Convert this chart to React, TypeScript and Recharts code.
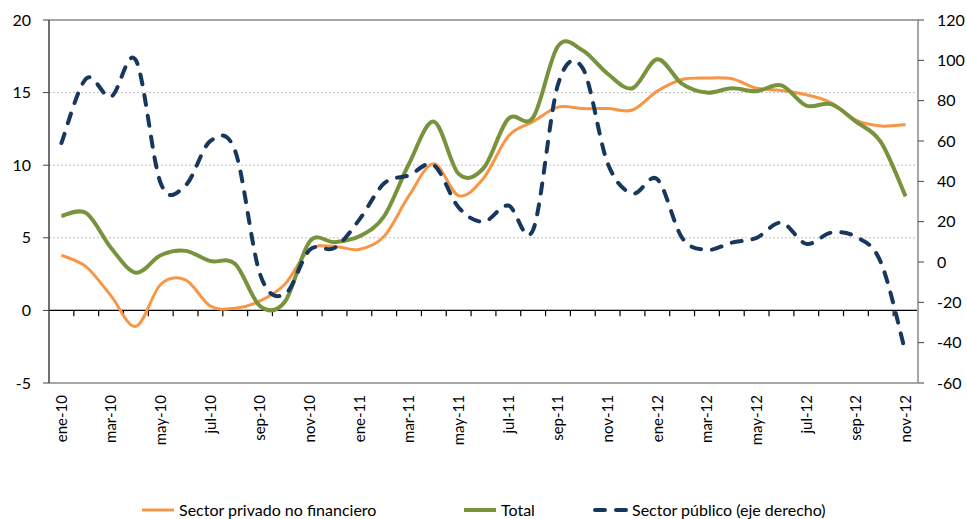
import React from 'react';
import { LineChart, Line, XAxis, YAxis, CartesianGrid, Legend, ReferenceLine } from 'recharts';

// Meses (eje X)
const months = [
  'ene-10', 'feb-10', 'mar-10', 'abr-10', 'may-10', 'jun-10', 'jul-10', 'ago-10', 'sep-10', 'oct-10', 'nov-10', 'dic-10',
  'ene-11', 'feb-11', 'mar-11', 'abr-11', 'may-11', 'jun-11', 'jul-11', 'ago-11', 'sep-11', 'oct-11', 'nov-11', 'dic-11',
  'ene-12', 'feb-12', 'mar-12', 'abr-12', 'may-12', 'jun-12', 'jul-12', 'ago-12', 'sep-12', 'oct-12', 'nov-12',
];

// Sector privado no financiero (eje izquierdo)
const privado = [
  3.8, 3.0, 1.0, -1.1, 1.8, 2.1, 0.3, 0.15, 0.65, 1.8, 4.2, 4.4,
  4.2, 5.1, 7.9, 10.1, 7.9, 9.1, 12.0, 13.0, 14.0, 13.9, 13.9, 13.8,
  15.1, 15.9, 16.0, 15.95, 15.3, 15.15, 14.85, 14.3, 13.1, 12.7, 12.8,
];

// Total (eje izquierdo)
const total = [
  6.5, 6.7, 4.3, 2.6, 3.8, 4.1, 3.4, 3.2, 0.3, 0.6, 4.75, 4.7,
  5.1, 6.5, 10.1, 13.0, 9.4, 9.8, 13.2, 13.3, 18.2, 17.9, 16.3, 15.3,
  17.3, 15.6, 15.0, 15.3, 15.1, 15.5, 14.1, 14.2, 13.0, 11.6, 7.85,
];

// Sector público (eje derecho)
const publico = [
  59, 91, 82, 100, 39, 38, 60, 55, -6, -16, 6, 7,
  21, 39, 43, 48, 27, 20, 28, 16, 88, 96, 49, 34,
  41, 12, 6, 9.6, 12, 19.5, 9, 14.5, 12.5, 0, -45,
];

const leftTicks = [-5, 0, 5, 10, 15, 20];
const rightTicks = [-60, -40, -20, 0, 20, 40, 60, 80, 100, 120];

const data = months.map((m, i) => ({
  idx: i,
  mes: m,
  privado: privado[i],
  total: total[i],
  publico: publico[i],
}));

const labelTicks = months.map((_, i) => i).filter((i) => i % 2 === 0);
const boundaries = months.map((_, i) => i + 0.5);

const FONT = 'Lato, "Open Sans", sans-serif';

// curva suavizada tipo Excel (Catmull-Rom)
const excelCurve: any = (context: any) => {
  let pts: number[][] = [];
  return {
    areaStart() {},
    areaEnd() {},
    lineStart() {
      pts = [];
    },
    point(x: number, y: number) {
      pts.push([+x, +y]);
    },
    lineEnd() {
      if (!pts.length) return;
      context.moveTo(pts[0][0], pts[0][1]);
      for (let i = 0; i < pts.length - 1; i++) {
        const p0 = pts[i - 1] || pts[i];
        const p1 = pts[i];
        const p2 = pts[i + 1];
        const p3 = pts[i + 2] || p2;
        context.bezierCurveTo(
          p1[0] + (p2[0] - p0[0]) / 6,
          p1[1] + (p2[1] - p0[1]) / 6,
          p2[0] - (p3[0] - p1[0]) / 6,
          p2[1] - (p3[1] - p1[1]) / 6,
          p2[0],
          p2[1],
        );
      }
    },
  };
};

const series: Record<string, { color: string; width: number; dash?: string; left: number }> = {
  privado: { color: '#F79646', width: 3, left: 140 },
  total: { color: '#77933C', width: 4, left: 462 },
  publico: { color: '#17375E', width: 4, dash: '10 11', left: 593 },
};

const MonthTick = (props: any) => {
  const { x, y, payload } = props;
  const ty = y + 12;
  return (
    <text
      x={x}
      y={ty}
      transform={`rotate(-90, ${x}, ${ty})`}
      textAnchor="end"
      dy="0.35em"
      fontSize={15}
      fontFamily={FONT}
      fill="#000"
    >
      {months[payload.value]}
    </text>
  );
};

const LegendContent = (props: any) => {
  const items = props.payload || [];
  return (
    <div style={{ position: 'relative', height: 36, fontFamily: FONT, fontSize: 16, color: '#000' }}>
      {items.map((entry: any) => {
        const s = series[entry.dataKey];
        return (
          <div
            key={entry.dataKey}
            style={{ position: 'absolute', left: s.left, top: 17, display: 'flex', alignItems: 'center', whiteSpace: 'nowrap' }}
          >
            <svg width={36} height={12} style={{ marginRight: 3 }}>
              <line
                x1={2}
                x2={34}
                y1={6}
                y2={6}
                stroke={s.color}
                strokeWidth={s.width}
                strokeDasharray={s.dash}
                strokeLinecap={s.dash ? 'round' : 'butt'}
              />
            </svg>
            <span>{entry.value}</span>
          </div>
        );
      })}
    </div>
  );
};

export default function App() {
  return (
    <div style={{ position: 'absolute', left: 0, top: 0, width: 967, height: 519, background: '#fff', fontFamily: FONT }}>
      <LineChart width={967} height={519} data={data} margin={{ top: 20, right: 0, bottom: 0, left: 0 }}>
        <CartesianGrid yAxisId="left" vertical={false} stroke="#bfbfbf" strokeDasharray="2 2" />
        <XAxis
          dataKey="idx"
          type="number"
          domain={[-0.5, 34.5]}
          ticks={labelTicks}
          interval={0}
          axisLine={false}
          tickLine={false}
          tickSize={0}
          tickMargin={0}
          height={100}
          tick={<MonthTick />}
        />
        <YAxis
          yAxisId="left"
          domain={[-5, 20]}
          ticks={leftTicks}
          interval={0}
          width={49}
          axisLine={{ stroke: '#404040', strokeWidth: 1.5 }}
          tickLine={{ stroke: '#404040' }}
          tickSize={6}
          tickMargin={12}
          tick={{ fill: '#000', fontSize: 16, fontFamily: FONT }}
        />
        <YAxis
          yAxisId="right"
          orientation="right"
          domain={[-60, 120]}
          ticks={rightTicks}
          interval={0}
          width={49}
          axisLine={{ stroke: '#a6a6a6', strokeWidth: 2 }}
          tickLine={{ stroke: '#404040' }}
          tickSize={6}
          tickMargin={13}
          tick={{ fill: '#000', fontSize: 16, fontFamily: FONT }}
        />
        <ReferenceLine yAxisId="left" y={20} stroke="#a6a6a6" strokeWidth={2} />
        <ReferenceLine yAxisId="left" y={-5} stroke="#a6a6a6" strokeWidth={2} />
        <ReferenceLine yAxisId="left" y={0} stroke="#000" strokeWidth={1.3} />
        {boundaries.map((b) => (
          <ReferenceLine
            key={b}
            yAxisId="left"
            segment={[{ x: b, y: 0 }, { x: b, y: -0.4 }]}
            stroke="#000"
            strokeWidth={1.2}
            ifOverflow="visible"
          />
        ))}
        <Legend verticalAlign="bottom" height={36} content={<LegendContent />} />
        <Line
          yAxisId="left"
          dataKey="privado"
          name="Sector privado no financiero"
          type={excelCurve}
          stroke={series.privado.color}
          strokeWidth={series.privado.width}
          dot={false}
          activeDot={false}
          isAnimationActive={false}
        />
        <Line
          yAxisId="left"
          dataKey="total"
          name="Total"
          type={excelCurve}
          stroke={series.total.color}
          strokeWidth={series.total.width}
          dot={false}
          activeDot={false}
          isAnimationActive={false}
        />
        <Line
          yAxisId="right"
          dataKey="publico"
          name="Sector público (eje derecho)"
          type={excelCurve}
          stroke={series.publico.color}
          strokeWidth={series.publico.width}
          strokeDasharray={series.publico.dash}
          strokeLinecap="round"
          dot={false}
          activeDot={false}
          isAnimationActive={false}
        />
      </LineChart>
    </div>
  );
}
